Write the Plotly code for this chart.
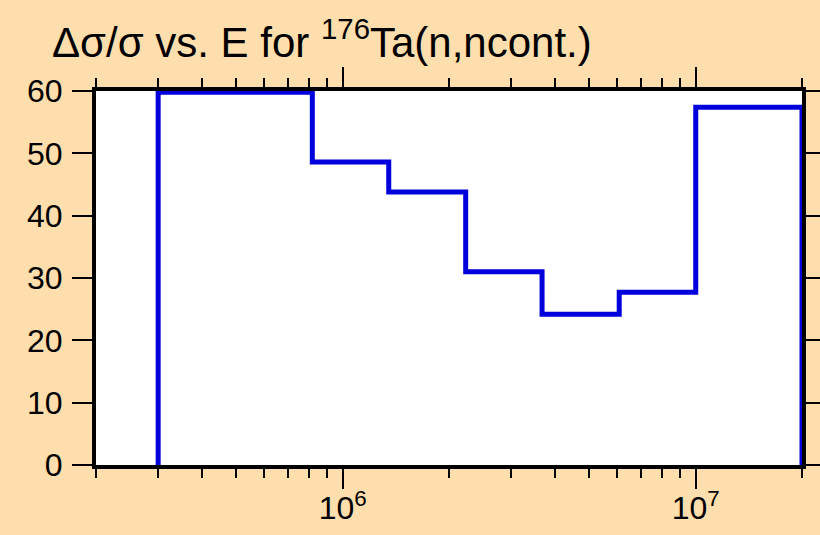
"""
    Relative uncertainty step plot for 176Ta(n,ncont.)
"""

##########==========##########==========##########==========##########==========
## HEADER
import plotly.graph_objects as go

## bin edges in eV and relative uncertainty per bin in %
bin_edges = [3.0e5, 8.2e5, 1.35e6, 2.23e6, 3.67e6, 6.07e6, 1.0e7, 2.0e7]
rel_unc = [59.8, 48.6, 43.8, 31.0, 24.2, 27.7, 57.4]

x_major = [1e6, 1e7]
x_major_text = ['10<sup>6</sup>', '10<sup>7</sup>']
x_minor = [2e5, 3e5, 4e5, 5e5, 6e5, 7e5, 8e5, 9e5,
           2e6, 3e6, 4e6, 5e6, 6e6, 7e6, 8e6, 9e6, 2e7]
y_ticks = [0, 10, 20, 30, 40, 50, 60]

params = dict(
    paper = '#FFDEAD', plot = 'white', dark = 'black', line = '#0000DD',
    font = 'Liberation Sans, Arial, sans-serif'
)

##########==========##########==========##########==========##########==========
## FIGURE

## histogram outline: start at zero, step through each bin, drop back to zero
x_step = [bin_edges[0]] + bin_edges
y_step = [0] + rel_unc + [0]

fig = go.Figure()
fig.add_trace(go.Scatter(
    x = x_step, y = y_step, mode = 'lines',
    line = dict(color = params['line'], width = 5, shape = 'hv'),
    showlegend = False, hoverinfo = 'skip'
))

axis_common = dict(
    showline = True, linewidth = 4, linecolor = params['dark'],
    mirror = 'allticks', ticks = 'outside', tickcolor = params['dark'],
    tickwidth = 2, showgrid = False, zeroline = False, automargin = False,
    tickfont = dict(size = 32, color = params['dark'], family = params['font'])
)

fig.update_layout(
    width = 820, height = 535,
    paper_bgcolor = params['paper'], plot_bgcolor = params['plot'],
    font = dict(family = params['font'], color = params['dark']),
    margin = dict(l = 96, r = 18, t = 91, b = 70, autoexpand = False),
    title = dict(
        text = '\u0394\u03c3/\u03c3 vs. E for <sup>176</sup>Ta(n,ncont.)',
        font = dict(size = 42, color = params['dark'], family = params['font']),
        x = 52 / 820, xref = 'container', xanchor = 'left',
        y = 1 - 42 / 535, yref = 'container', yanchor = 'middle'
    ),
    xaxis = dict(
        type = 'log', range = [5.30103, 7.30103],
        tickvals = x_major, ticktext = x_major_text, ticklen = 20,
        ticklabelstandoff = -8,
        minor = dict(tickvals = x_minor, ticks = 'outside', ticklen = 9,
                     tickwidth = 2, tickcolor = params['dark'], showgrid = False),
        **axis_common
    ),
    yaxis = dict(
        range = [0, 60], tickvals = y_ticks, ticklen = 20,
        ticklabelstandoff = 3,
        **axis_common
    )
)

## drop the default page margin so the figure fills the window
fig.write_html('out.html', config = dict(displayModeBar = False),
               post_script = "document.body.style.margin = '0';")
